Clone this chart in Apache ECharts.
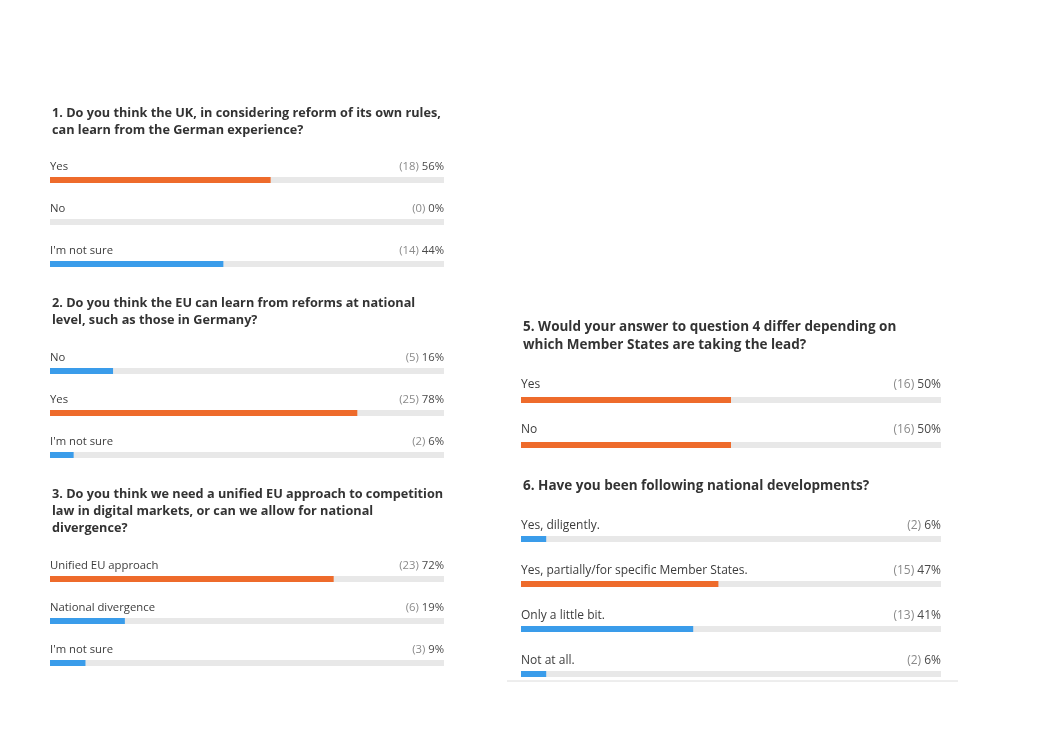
<!DOCTYPE html>
<html>
<head>
<meta charset="utf-8">
<title>Survey results</title>
<script src="https://cdn.jsdelivr.net/npm/echarts@6/dist/echarts.min.js"></script>
<style>
  html,body{margin:0;padding:0;background:#fff;}
  #main{width:1041px;height:736px;}
</style>
</head>
<body>
<div id="main"></div>
<script>
'use strict';
// survey answers, one set of arrays per question
var q1Title = '1. Do you think the UK, in considering reform of its own rules,\ncan learn from the German experience?';
var q1Labels = ['Yes', 'No', "I'm not sure"];
var q1Counts = [18, 0, 14];
var q1Pcts = [56, 0, 44];

var q2Title = '2. Do you think the EU can learn from reforms at national\nlevel, such as those in Germany?';
var q2Labels = ['No', 'Yes', "I'm not sure"];
var q2Counts = [5, 25, 2];
var q2Pcts = [16, 78, 6];

var q3Title = '3. Do you think we need a unified EU approach to competition\nlaw in digital markets, or can we allow for national\ndivergence?';
var q3Labels = ['Unified EU approach', 'National divergence', "I'm not sure"];
var q3Counts = [23, 6, 3];
var q3Pcts = [72, 19, 9];

var q5Title = '5. Would your answer to question 4 differ depending on\nwhich Member States are taking the lead?';
var q5Labels = ['Yes', 'No'];
var q5Counts = [16, 16];
var q5Pcts = [50, 50];

var q6Title = '6. Have you been following national developments?';
var q6Labels = ['Yes, diligently.', 'Yes, partially/for specific Member States.', 'Only a little bit.', 'Not at all.'];
var q6Counts = [2, 15, 13, 2];
var q6Pcts = [6, 47, 41, 6];

var ORANGE = '#EE6B2B';
var BLUE = '#3A9CEA';
var TRACK = '#E8E8E8';
var FONT = 'Open Sans';

var option = {
  backgroundColor: '#fff',
  animation: false,
  title: [],
  grid: [],
  xAxis: [],
  yAxis: [],
  series: [],
  graphic: []
};

//一个问题一个面板
function addPanel(title, labels, counts, pcts, pos){
  var gi = option.grid.length;
  var max = Math.max.apply(null, pcts);
  var lift = pos.gap * 2 - 3;
  var fs = pos.fs;
  option.title.push({
    text: title,
    left: pos.left + 2,
    top: pos.titleTop,
    padding: 0,
    textStyle: {fontFamily: FONT, fontSize: pos.tfs, fontWeight: 'bold', color: '#333', lineHeight: pos.lh}
  });
  option.grid.push({left: pos.left, top: pos.top, width: pos.width, height: pos.height, containLabel: false});
  option.xAxis.push({
    type: 'value', gridIndex: gi, min: 0, max: 100, show: false
  });
  var yAxisBase = {
    type: 'category', gridIndex: gi, inverse: true,
    axisLine: {show: false}, axisTick: {show: false}, splitLine: {show: false}
  };
  // left: answer text above the bar
  option.yAxis.push(Object.assign({}, yAxisBase, {
    position: 'left',
    data: labels,
    axisLabel: {
      inside: true, margin: 0, align: 'left', verticalAlign: 'middle',
      padding: [0, 0, lift, 0],
      formatter: function(v){ return '{n|' + v + '}'; },
      rich: {n: {fontFamily: FONT, fontSize: fs, color: '#3c3c3c'}}
    }
  }));
  // right: (count) percent
  option.yAxis.push(Object.assign({}, yAxisBase, {
    position: 'right',
    data: labels.map(function(l, i){ return '{c|(' + counts[i] + ')} {p|' + pcts[i] + '%}'; }),
    axisLabel: {
      inside: true, margin: 0, align: 'right', verticalAlign: 'middle',
      padding: [0, 0, lift, 0],
      fontFamily: FONT, fontSize: fs,
      rich: {
        c: {fontFamily: FONT, fontSize: fs, color: '#8a8a8a'},
        p: {fontFamily: FONT, fontSize: fs, color: '#4a4a4a'}
      }
    }
  }));
  option.series.push({
    type: 'bar',
    xAxisIndex: gi,
    yAxisIndex: option.yAxis.length - 2,
    barWidth: 6,
    showBackground: true,
    backgroundStyle: {color: TRACK},
    data: pcts.map(function(v){
      return {value: v, itemStyle: {color: v === max ? ORANGE : BLUE}};
    })
  });
}

addPanel(q1Title, q1Labels, q1Counts, q1Pcts, {left: 50, width: 394, top: 159, height: 126, titleTop: 104.5, lh: 17, gap: 15, fs: 11.3, tfs: 12.7});
addPanel(q2Title, q2Labels, q2Counts, q2Pcts, {left: 50, width: 394, top: 350, height: 126, titleTop: 294.5, lh: 17, gap: 15, fs: 11.3, tfs: 12.7});
addPanel(q3Title, q3Labels, q3Counts, q3Pcts, {left: 50, width: 394, top: 558, height: 126, titleTop: 485.5, lh: 17, gap: 15, fs: 11.3, tfs: 12.7});
addPanel(q5Title, q5Labels, q5Counts, q5Pcts, {left: 521, width: 420, top: 377.5, height: 90, titleTop: 318, lh: 18, gap: 16.5, fs: 12, tfs: 13.5});
addPanel(q6Title, q6Labels, q6Counts, q6Pcts, {left: 521, width: 420, top: 516.5, height: 180, titleTop: 477, lh: 18, gap: 15, fs: 12, tfs: 13.5});

// thin rule under question 6
option.graphic.push({
  type: 'line',
  shape: {x1: 507, y1: 681, x2: 958, y2: 681},
  style: {stroke: '#dcdcdc', lineWidth: 1}
});

var myChart = echarts.init(document.getElementById('main'), null, {renderer: 'canvas'});
myChart.setOption(option);
</script>
</body>
</html>
